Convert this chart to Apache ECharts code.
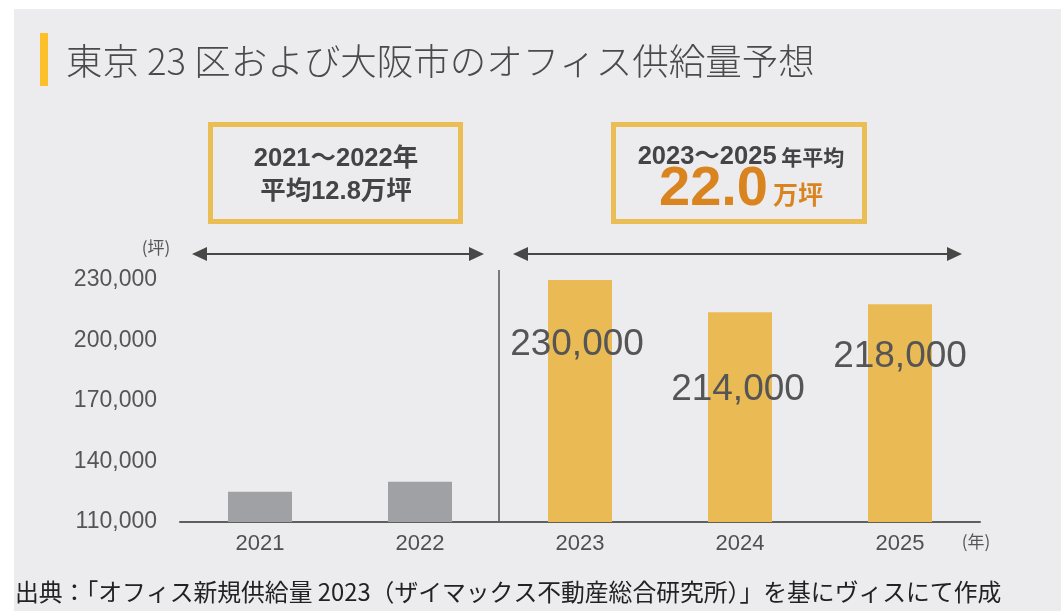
<!DOCTYPE html>
<html>
<head>
<meta charset="utf-8">
<script src="https://cdn.jsdelivr.net/npm/echarts@6/dist/echarts.min.js"></script>
<style>
  html, body { margin: 0; padding: 0; background: #fff; }
  #chart { width: 1061px; height: 611px; }
</style>
</head>
<body>
<div id="chart"></div>
<script>
// 年ごとの供給量（坪）
const years = ['2021', '2022', '2023', '2024', '2025'];
const supply = [125000, 130000, 230000, 214000, 218000];
const yTicks = { min: 110000, max: 230000, step: 30000 };

const latin = "'Liberation Sans', 'Noto Sans CJK JP', sans-serif";
const jp = "'Noto Sans CJK JP', sans-serif";
const textColor = '#555';
const yellow = '#eabb54';
const gray = '#a0a1a4';

// 予測値のラベル位置の微調整
const labelShift = { 2: [-3, 41], 3: [-2, 54], 4: [0, 29] };

let chart = echarts.init(document.getElementById('chart'));

let barData = supply.map(function (v, i) {
    let item = { value: v, itemStyle: { color: i < 2 ? gray : yellow } };
    if (i >= 2) {
        item.label = {
            show: true,
            position: 'insideTop',
            offset: labelShift[i],
            formatter: function (p) { return p.value.toLocaleString('en-US'); },
            fontFamily: latin,
            fontSize: 37,
            color: textColor
        };
    }
    return item;
});

// 両端矢印
function arrow(x1, x2, y) {
    let c = '#474747';
    return {
        type: 'group',
        children: [
            { type: 'line', shape: { x1: x1 + 10, y1: y, x2: x2 - 10, y2: y }, style: { stroke: c, lineWidth: 2 } },
            { type: 'polygon', shape: { points: [[x1, y], [x1 + 15, y - 7], [x1 + 15, y + 7]] }, style: { fill: c } },
            { type: 'polygon', shape: { points: [[x2, y], [x2 - 15, y - 7], [x2 - 15, y + 7]] }, style: { fill: c } }
        ]
    };
}

let option = {
    animation: false,
    grid: { left: 180, right: 81, top: 280, bottom: 89 },
    xAxis: {
        type: 'category',
        data: years,
        axisLine: { lineStyle: { color: '#5f5f5f', width: 2 } },
        axisTick: { show: false },
        axisLabel: { margin: 11, fontFamily: latin, fontSize: 22, color: '#505050' }
    },
    yAxis: {
        type: 'value',
        min: yTicks.min,
        max: yTicks.max,
        interval: yTicks.step,
        axisLine: { show: false },
        axisTick: { show: false },
        splitLine: { show: false },
        axisLabel: {
            margin: 23,
            fontFamily: latin,
            fontSize: 23,
            color: textColor,
            formatter: function (v) { return v.toLocaleString('en-US'); }
        }
    },
    series: [{
        type: 'bar',
        barWidth: 64,
        data: barData
    }]
};
chart.setOption(option);

// 実績と予測の区切り線
let xa = chart.convertToPixel({ xAxisIndex: 0 }, years[1]);
let xb = chart.convertToPixel({ xAxisIndex: 0 }, years[2]);
let sepX = (xa + xb) / 2 - 1;
let baseY = chart.convertToPixel({ yAxisIndex: 0 }, yTicks.min);

chart.setOption({
    graphic: [
        { type: 'rect', z: -10, shape: { x: 14, y: 9, width: 1061, height: 611 }, style: { fill: '#ececee' } },
        { type: 'rect', shape: { x: 40, y: 33, width: 8, height: 53 }, style: { fill: '#fcc02a' } },
        {
            type: 'text', x: 66, y: 61,
            style: { text: '東京 23 区および大阪市のオフィス供給量予想', fontFamily: jp, fontWeight: 300, fontSize: 36.5, fill: '#4a4a4a', verticalAlign: 'middle' }
        },
        { type: 'rect', shape: { x: 210.5, y: 124.5, width: 250, height: 97 }, style: { fill: 'none', stroke: '#ebbd55', lineWidth: 5 } },
        { type: 'rect', shape: { x: 613.5, y: 124.5, width: 251, height: 97 }, style: { fill: 'none', stroke: '#ebbd55', lineWidth: 5 } },
        {
            type: 'text', x: 336, y: 175,
            style: {
                text: '2021～2022年\n平均12.8万坪',
                fontFamily: latin, fontWeight: 'bold', fontSize: 25.5, lineHeight: 33,
                fill: '#444', align: 'center', verticalAlign: 'middle'
            }
        },
        {
            type: 'text', x: 741, y: 157,
            style: {
                text: '{a|2023～2025}{b| 年平均}',
                align: 'center', verticalAlign: 'middle',
                rich: {
                    a: { fontFamily: latin, fontWeight: 'bold', fontSize: 25.5, fill: '#444' },
                    b: { fontFamily: jp, fontWeight: 'bold', fontSize: 21, fill: '#444' }
                }
            }
        },
        {
            type: 'text', x: 741, y: 190,
            style: {
                text: '{a|22.0}{b|万坪}',
                align: 'center', verticalAlign: 'middle',
                rich: {
                    a: { fontFamily: latin, fontWeight: 'bold', fontSize: 56, fill: '#d9841f', padding: [0, 5, 0, 0] },
                    b: { fontFamily: jp, fontWeight: 'bold', fontSize: 25, fill: '#d9841f', padding: [8, 0, 0, 0] }
                }
            }
        },
        arrow(192, 484, 254),
        arrow(513, 962, 254),
        { type: 'line', shape: { x1: sepX, y1: 270, x2: sepX, y2: baseY }, style: { stroke: '#555', lineWidth: 1.5 } },
        { type: 'text', x: 156, y: 248, style: { text: '(坪)', fontFamily: jp, fontSize: 17, fill: textColor, align: 'center', verticalAlign: 'middle' } },
        { type: 'text', x: 976, y: 542, style: { text: '(年)', fontFamily: jp, fontSize: 17, fill: textColor, align: 'center', verticalAlign: 'middle' } },
        {
            type: 'text', x: 15, y: 592,
            style: { text: '出典：「オフィス新規供給量 2023（ザイマックス不動産総合研究所）」を基にヴィスにて作成', fontFamily: jp, fontSize: 23.8, fill: '#222', verticalAlign: 'middle' }
        }
    ]
});
</script>
</body>
</html>
